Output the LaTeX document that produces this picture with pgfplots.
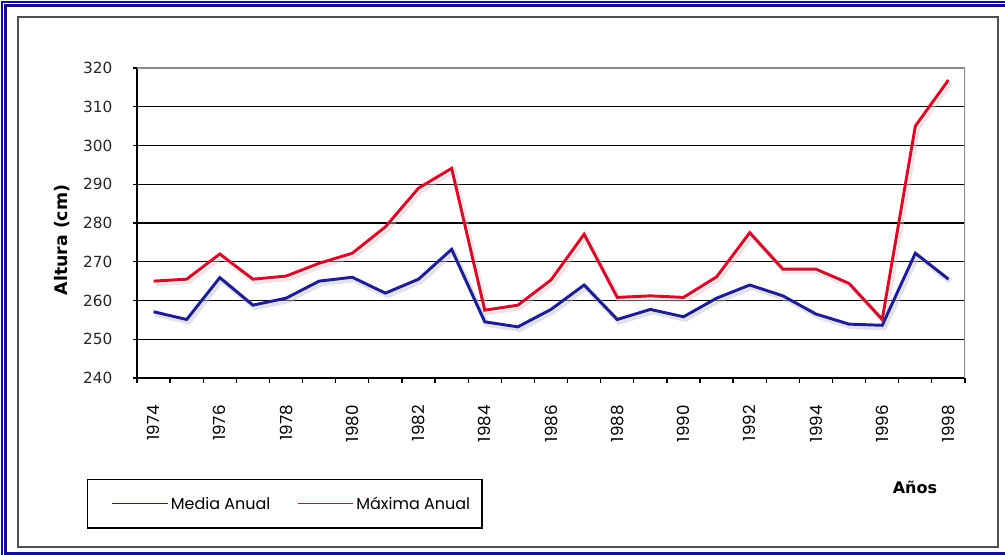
\documentclass[border=0pt]{standalone}
\usepackage{pgfplots}
\pgfplotsset{compat=1.18}
\usepackage{pgfplotstable}
\usepackage{fontspec}
\setmainfont{DejaVu Sans}
\newfontfamily\gothic{Poppins}

\definecolor{navyline}{RGB}{30,30,140}
\definecolor{redline}{RGB}{200,18,46}
\definecolor{frameblue}{RGB}{16,16,140}
\definecolor{framegray}{RGB}{80,80,80}

% Alturas anuales (cm)
\pgfplotstableread{
year media maxima
1974 257.1 265.0
1975 255.1 265.5
1976 265.9 272.0
1977 258.8 265.5
1978 260.6 266.3
1979 265.0 269.6
1980 266.0 272.2
1981 261.9 279.0
1982 265.5 289.0
1983 273.2 294.1
1984 254.5 257.5
1985 253.2 258.8
1986 257.7 265.3
1987 264.0 277.1
1988 255.1 260.8
1989 257.7 261.2
1990 255.8 260.8
1991 260.6 266.1
1992 264.0 277.5
1993 261.2 268.1
1994 256.5 268.1
1995 253.9 264.4
1996 253.6 255.1
1997 272.2 305.0
1998 265.5 316.9
}\datos

\begin{document}
\begin{tikzpicture}[x=0.75pt,y=0.75pt]
\useasboundingbox (0,0) rectangle (1005,555);
% double blue frame and inner grey frame
\begin{scope}
\clip (0,0) rectangle (1005,555);
\draw[frameblue, line width=1.9pt] (2,-10) rectangle (1015,553);
\draw[frameblue, line width=1.9pt] (5.5,1.5) rectangle (1015,549.5);
\draw[framegray, line width=1.5pt] (17.5,7.5) rectangle (997.5,537.5);
\end{scope}

\begin{axis}[
  at={(102.75pt,132.75pt)}, anchor=south west,
  scale only axis, width=621pt, height=232.5pt,
  xmin=1973.5, xmax=1998.5, ymin=240, ymax=320,
  axis x line*=bottom, axis y line*=left,
  axis line style={black, line width=1.1pt},
  ytick={240,250,...,320},
  ymajorgrids, major grid style={black, line width=1.1pt},
  xtick={1974,1976,...,1998},
  minor xtick={1973.5,1974.5,...,1998.5},
  tick align=outside,
  major tick length=3pt, minor tick length=3.75pt,
  tick style={black, line width=1pt},
  major x tick style={draw=none},
  /pgf/number format/assume math mode=true,
  xticklabel style={font=\gothic\fontsize{12.5}{13}\selectfont, rotate=90, anchor=east, /pgf/number format/1000 sep={}},
  xticklabel shift=14pt,
  yticklabel style={font=\fontsize{11.5}{13}\selectfont, color=black!85},
  yticklabel shift=12pt,
  ylabel={\textbf{Altura (cm)}},
  ylabel style={font=\fontsize{13}{15}\selectfont, at={(axis description cs:-0.0906,0.445)}, anchor=center},
  xlabel={\textbf{Años}},
  xlabel style={font=\fontsize{12}{14}\selectfont, at={(axis description cs:0.9396,-0.3516)}, anchor=center},
  legend columns=2,
  legend style={at={(axis description cs:-0.0607,-0.3258)}, anchor=north west,
    draw=black, line width=1.1pt, font=\gothic\fontsize{12}{14}\selectfont,
    inner xsep=7pt, inner ysep=10.7pt,
    /tikz/every even column/.append style={column sep=7pt}},
  legend image code/.code={\path (0pt,0pt); \draw[#1, line width=0.8pt] (10.5pt,0pt) -- (52pt,0pt);},
]
% soft shadows under the series
\addplot[forget plot, draw=navyline!30, line width=4pt, opacity=0.45, xshift=1.5pt, yshift=-1.8pt] table[x=year, y=media] {\datos};
\addplot[forget plot, draw=redline!30, line width=4pt, opacity=0.45, xshift=1.5pt, yshift=-1.8pt] table[x=year, y=maxima] {\datos};
% series
\addplot[draw=navyline, line width=2.2pt] table[x=year, y=media] {\datos};
\addlegendentry{Media Anual}
\addplot[draw=redline, line width=2.2pt] table[x=year, y=maxima] {\datos};
\addlegendentry{Máxima Anual}
% plot-area border on top and right
\draw[black!45, line width=1.1pt] (rel axis cs:0,1) -- (rel axis cs:1,1) -- (rel axis cs:1,0);
\end{axis}
\end{tikzpicture}
\end{document}
